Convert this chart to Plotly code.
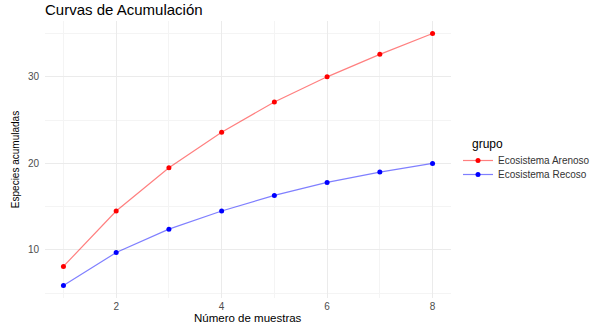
import plotly.graph_objects as go

muestras = [1, 2, 3, 4, 5, 6, 7, 8]
arenoso = [8.1, 14.5, 19.5, 23.6, 27.1, 30.0, 32.6, 35.0]
recoso = [5.9, 9.7, 12.4, 14.5, 16.3, 17.8, 19.0, 20.0]
grupos = ["Ecosistema Arenoso", "Ecosistema Recoso"]
x_ticks = [2, 4, 6, 8]
y_ticks = [10, 20, 30]

FONT = "Liberation Sans, Arial, sans-serif"
W, H = 590, 325

fig = go.Figure()
for name, vals, lc, mc, lg in [
    (grupos[0], arenoso, "rgba(255,0,0,0.5)", "#ff0000", "legend"),
    (grupos[1], recoso, "rgba(0,0,255,0.5)", "#0000ff", "legend2"),
]:
    fig.add_trace(go.Scatter(
        x=muestras, y=vals, name=name, mode="lines+markers",
        line=dict(color=lc, width=1.2),
        marker=dict(color=mc, size=5),
        legend=lg, showlegend=True,
    ))

axis_common = dict(
    showline=False, zeroline=False, ticks="", automargin=False,
    gridcolor="#ebebeb", gridwidth=1,
    tickfont=dict(family=FONT, size=10, color="#4d4d4d"),
)

fig.update_xaxes(
    range=[0.65, 8.35], tickvals=x_ticks, ticklabelstandoff=1,
    minor=dict(dtick=1, tick0=1, showgrid=True, gridcolor="#f4f4f4", gridwidth=0.6),
    **axis_common,
)
fig.update_yaxes(
    range=[4.45, 36.45], tickvals=y_ticks, ticklabelstandoff=5,
    minor=dict(dtick=5, tick0=0, showgrid=True, gridcolor="#f4f4f4", gridwidth=0.6),
    title=dict(text="Especies acumuladas", standoff=6,
               font=dict(family=FONT, size=10, color="#000000")),
    **axis_common,
)

leg_common = dict(
    xref="container", yref="container", xanchor="left", yanchor="top",
    font=dict(family=FONT, size=10, color="#333333"),
    bgcolor="rgba(0,0,0,0)", itemwidth=30, visible=True,
)

fig.update_layout(
    width=W, height=H, showlegend=True,
    margin=dict(l=45, r=139, t=21, b=27, autoexpand=False),
    paper_bgcolor="white", plot_bgcolor="white",
    font=dict(family=FONT),
    title=dict(
        text="Curvas de Acumulación", x=45 / W, xanchor="left", xref="container",
        y=1 - 4 / H, yref="container", yanchor="top",
        font=dict(family=FONT, size=15, color="#000000"),
    ),
    legend=dict(x=458 / W, y=1 - 146 / H, **leg_common),
    legend2=dict(x=458 / W, y=1 - 160 / H, **leg_common),
    annotations=[
        dict(text="grupo", xref="paper", yref="paper",
             x=(470 - 45) / 406, y=(298 - 144) / 277,
             xanchor="left", yanchor="middle", showarrow=False,
             font=dict(family=FONT, size=12, color="#000000")),
        dict(text="Número de muestras", xref="paper", yref="paper",
             x=0.5, y=(298 - 318) / 277,
             xanchor="center", yanchor="middle", showarrow=False,
             font=dict(family=FONT, size=11.5, color="#000000")),
    ],
)

fig.write_html(
    "out.html",
    config={"displayModeBar": False},
    post_script="document.body.style.margin='0';document.body.style.overflow='hidden';",
)
